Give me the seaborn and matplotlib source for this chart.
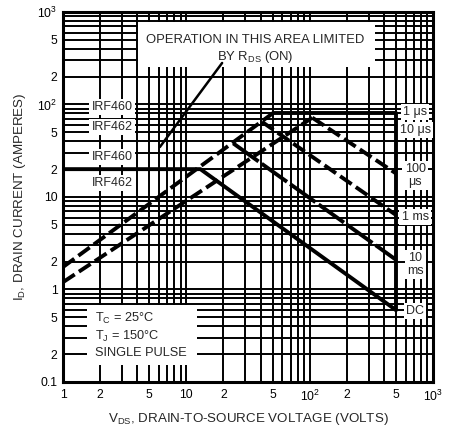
import matplotlib
matplotlib.use("Agg")
import matplotlib.pyplot as plt
import seaborn as sns
from matplotlib.patches import Rectangle
from matplotlib.ticker import FixedLocator, FuncFormatter

sns.set_theme(style="white")
plt.rcParams['font.family'] = ['Liberation Sans', 'DejaVu Sans']
plt.rcParams['mathtext.default'] = 'regular'

# Safe operating area boundaries (V_DS in volts, I_D in amperes)
dc_v = [1, 13, 500]
dc_i = [20, 20, 0.6]
ms10_v = [24, 500]
ms10_i = [38, 2.1]
ms1_v = [41, 500]
ms1_i = [65, 6.4]
us100_v = [105, 500]
us100_i = [72, 18]
us1_v = [50, 500, 500]
us1_i = [80, 80, 0.6]
rds460_v = [1, 50]
rds460_i = [1.75, 80]
rds462_v = [1, 105]
rds462_i = [1.2, 72]
pointer_v = [19.5, 6.1]
pointer_i = [281, 34.7]

# Right-hand curve labels and their current levels
curve_labels = ["1 \u03bcs", "10 \u03bcs", "100\n\u03bcs", "1 ms", "10\nms", "DC"]
curve_label_i = [83, 53, 17.2, 6.1, 1.85, 0.59]
# Device labels on the left (current levels)
device_labels = ["IRF460", "IRF462", "IRF460", "IRF462"]
device_label_i = [94, 57, 27, 14.2]

x_major = [1, 10, 100, 1000]
x_major_labels = ["1", "10", "$10^2$", "$10^3$"]
y_major = [0.1, 1, 10, 100, 1000]
y_major_labels = ["0.1", "1", "10", "$10^2$", "$10^3$"]

fig = plt.figure(figsize=(4.52, 4.28), dpi=100)
ax = fig.add_axes([0.1394, 0.1075, 0.8186, 0.8645])
ax.set_xscale("log")
ax.set_yscale("log")
ax.set_xlim(1, 1000)
ax.set_ylim(0.1, 1000)

lw = 2.8
dash = (3.6, 1.3)
solid_curves = [(dc_v, dc_i), (us1_v, us1_i)]
dashed_curves = [(ms10_v, ms10_i, (8, 1.0)), (ms1_v, ms1_i, dash),
                 (us100_v, us100_i, dash), (rds460_v, rds460_i, dash),
                 (rds462_v, rds462_i, dash)]
for v, i in solid_curves:
    sns.lineplot(x=v, y=i, ax=ax, color="black", lw=lw, sort=False,
                 estimator=None, zorder=5)
for v, i, d in dashed_curves:
    sns.lineplot(x=v, y=i, ax=ax, color="black", lw=lw, sort=False,
                 estimator=None, zorder=5)
    ax.lines[-1].set_dashes(d)
sns.lineplot(x=pointer_v, y=pointer_i, ax=ax, color="black", lw=1.8,
             sort=False, estimator=None, zorder=5)

# Log grid with every 1..9 line drawn
minor = [m * 10.0 ** e for e in range(-1, 3) for m in range(2, 10)]
ax.xaxis.set_major_locator(FixedLocator(x_major))
ax.yaxis.set_major_locator(FixedLocator(y_major))
ax.xaxis.set_minor_locator(FixedLocator([m for m in minor if 1 < m < 1000]))
ax.yaxis.set_minor_locator(FixedLocator([m for m in minor if 0.1 < m < 1000]))
ax.set_xticklabels(x_major_labels)
ax.set_yticklabels(y_major_labels)


def minor_fmt(val, pos):
    lead = round(val / 10 ** int(f"{val:e}".split("e")[1]))
    return str(lead) if lead in (2, 5) else ""


ax.xaxis.set_minor_formatter(FuncFormatter(minor_fmt))
ax.yaxis.set_minor_formatter(FuncFormatter(minor_fmt))
ax.grid(True, which="both", color="black", lw=1.4, zorder=1)
ax.set_axisbelow(True)
ax.tick_params(which="both", length=0, labelsize=8.8, colors="black")
ax.tick_params(axis="x", which="both", pad=5)
ax.tick_params(axis="y", which="both", pad=4)
for s in ax.spines.values():
    s.set_color("black")
    s.set_linewidth(2.2)

ax.set_xlabel("$V_{DS}$, DRAIN-TO-SOURCE VOLTAGE (VOLTS)", fontsize=9.6,
              labelpad=5)
ax.set_ylabel("$I_D$, DRAIN CURRENT (AMPERES)", fontsize=9.6, labelpad=7)

# Boxed annotations
ax.add_patch(Rectangle((0.203, 0.851), 0.64, 0.122, transform=ax.transAxes,
                       facecolor="white", edgecolor="none", zorder=3))
ax.text(0.519, 0.924, "OPERATION IN THIS AREA LIMITED", transform=ax.transAxes,
        ha="center", va="center", fontsize=9.4, zorder=4)
ax.text(0.519, 0.878, "BY $R_{DS}$ (ON)", transform=ax.transAxes,
        ha="center", va="center", fontsize=9.4, zorder=4)

ax.add_patch(Rectangle((0.065, 0.046), 0.297, 0.162, transform=ax.transAxes,
                       facecolor="white", edgecolor="none", zorder=3))
for yy, s in zip([0.173, 0.122, 0.078],
                 ["$T_C$ = 25\u00b0C", "$T_J$ = 150\u00b0C", "SINGLE PULSE"]):
    ax.text(0.086, yy, s, transform=ax.transAxes, ha="left", va="center",
            fontsize=9.2, zorder=4)

box = dict(facecolor="white", edgecolor="none", pad=1.5)
for s, i in zip(device_labels, device_label_i):
    ax.text(2.5, i, s, ha="center", va="center", fontsize=9, bbox=box,
            zorder=4)
for s, i in zip(curve_labels, curve_label_i):
    ax.text(716, i, s, ha="center", va="center", fontsize=9, bbox=box,
            linespacing=1.1, zorder=4)

fig.savefig("out.png", dpi=100)
